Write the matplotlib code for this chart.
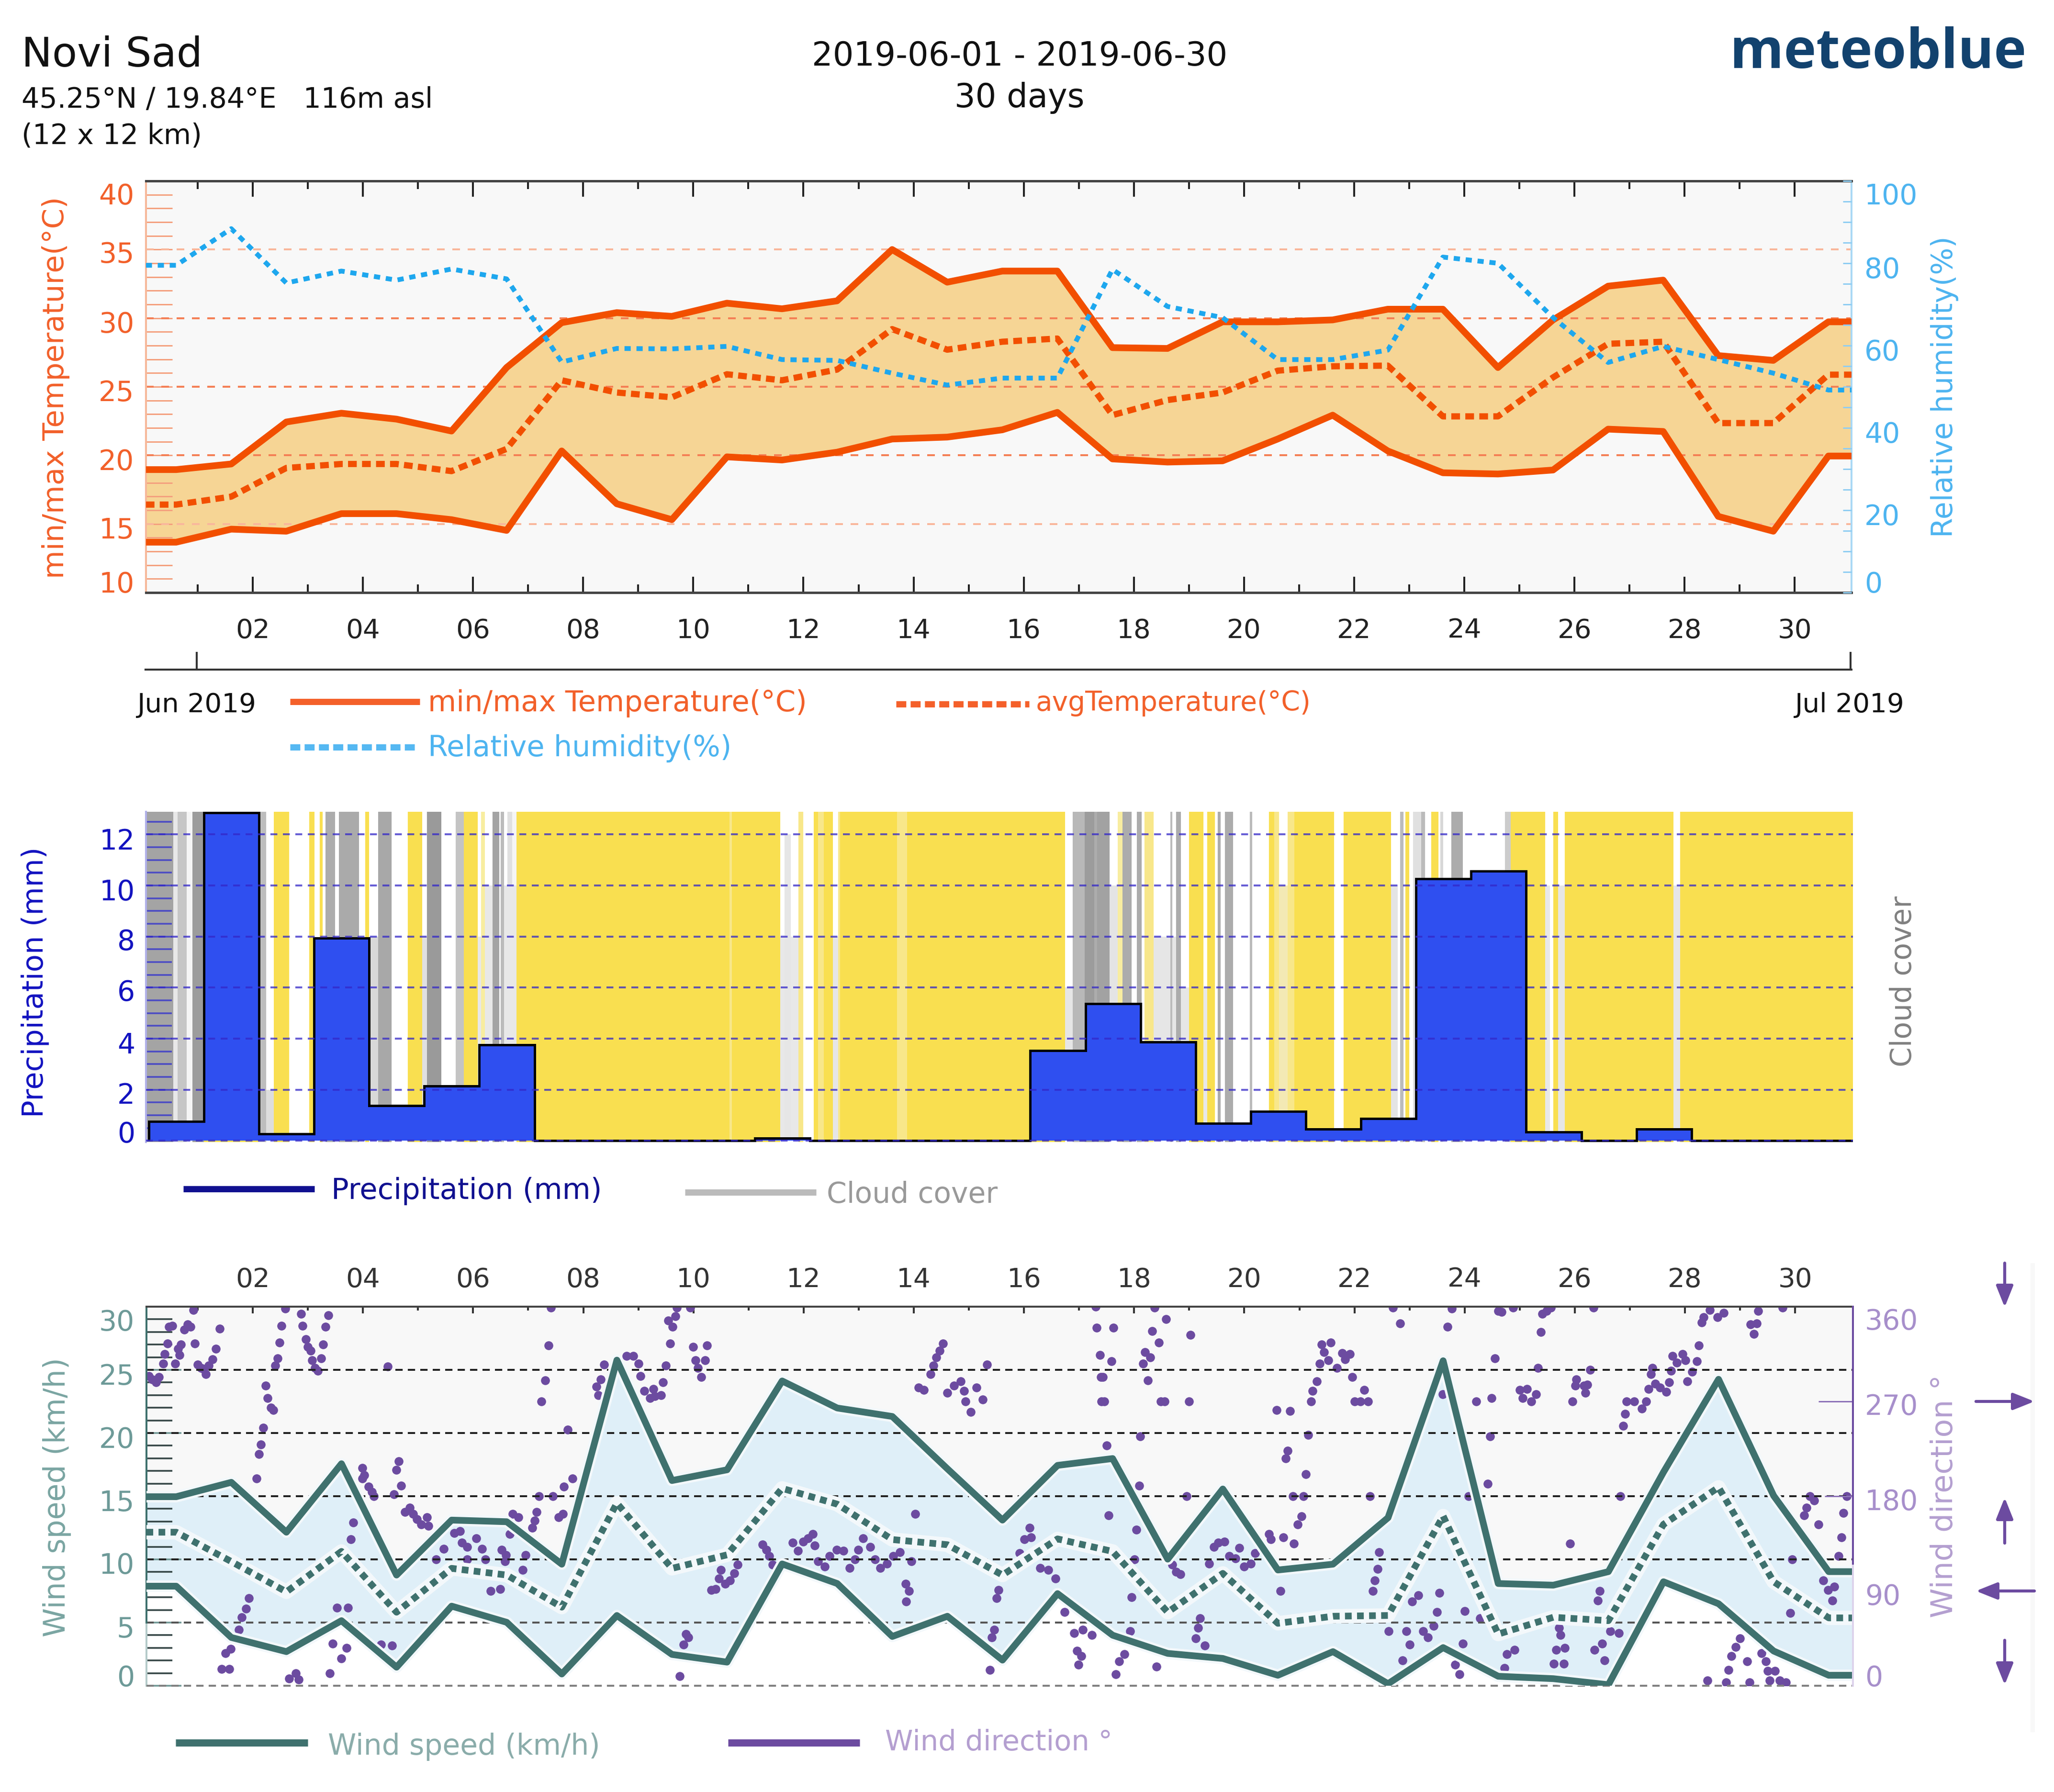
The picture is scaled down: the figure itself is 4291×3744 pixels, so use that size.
"""
Monthly weather overview for Novi Sad, June 2019: temperature and humidity,
precipitation over cloud cover, wind speed and direction.
"""

import numpy as np
import matplotlib
matplotlib.use('Agg')
import matplotlib.pyplot as plt
from matplotlib.transforms import ScaledTranslation

W, H = 4291, 3745
DPI = 300

temp_max = [18.96, 19.37, 22.43, 23.07, 22.64, 21.77, 26.4, 29.67, 30.4, 30.13, 31.09, 30.68, 31.26, 35.0, 32.62, 33.43,
            33.43, 27.85, 27.79, 29.73, 29.73, 29.87, 30.65, 30.65, 26.4, 29.87, 32.33, 32.77, 27.27, 26.92, 29.73]
temp_min = [13.67, 14.62, 14.47, 15.75, 15.75, 15.31, 14.53, 20.32, 16.47, 15.31, 19.89, 19.66, 20.23, 21.19, 21.33, 21.86,
            23.13, 19.74, 19.51, 19.6, 21.19, 22.93, 20.32, 18.73, 18.64, 18.93, 21.91, 21.74, 15.55, 14.47, 19.95]
temp_avg = [16.41, 16.99, 19.08, 19.37, 19.37, 18.85, 20.47, 25.47, 24.58, 24.23, 25.91, 25.47, 26.25, 29.2, 27.7, 28.28,
            28.51, 22.93, 24.03, 24.58, 26.17, 26.49, 26.54, 22.84, 22.84, 25.68, 28.13, 28.28, 22.35, 22.35, 25.88]
humidity = [79.5, 88.4, 75.2, 78.1, 75.9, 78.6, 76.2, 56, 59.3, 59.2, 59.8, 56.6, 56.4, 53.3, 50.4, 52.1,
            52.1, 78.5, 69.5, 66.8, 56.6, 56.6, 58.9, 81.5, 80, 66.8, 55.9, 59.8, 56.6, 53.3, 49.2]

precip = [0.75, 12.85, 0.27, 7.93, 1.37, 2.15, 3.76, 0, 0, 0, 0, 0.1, 0, 0, 0, 0,
          3.54, 5.37, 3.87, 0.69, 1.15, 0.46, 0.86, 10.26, 10.56, 0.35, 0, 0.46, 0, 0, 0]

wind_max = [14.96, 16.1, 12.15, 17.57, 8.76, 13.11, 12.98, 9.62, 25.77, 16.24, 17.09, 24.12, 21.98, 21.31, 17.17, 13.11,
            17.44, 17.98, 10.02, 15.57, 9.16, 9.62, 13.3, 25.72, 8.09, 7.96, 9.03, 16.9, 24.25, 15.04, 9.03]
wind_min = [7.88, 3.82, 2.7, 5.15, 1.47, 6.3, 5.02, 0.93, 5.56, 2.48, 1.87, 9.64, 8.09, 3.9, 5.5, 2.03,
            7.29, 4.0, 2.56, 2.16, 0.83, 2.7, 0.16, 3.02, 0.75, 0.56, 0.08, 8.23, 6.49, 2.75, 0.83]
wind_avg = [12.15, 9.83, 7.43, 10.63, 5.82, 9.29, 8.76, 6.22, 14.45, 9.29, 10.36, 15.62, 14.37, 11.57, 11.16, 8.76,
            11.62, 10.63, 5.82, 8.89, 4.94, 5.5, 5.56, 13.43, 4.09, 5.42, 5.15, 12.77, 15.7, 8.23, 5.37]

# wind direction samples: day position and degrees
wdir_day = [0.11, 0.17, 0.24, 0.30, 0.37, 0.40, 0.45, 0.48, 0.54, 0.59, 0.64, 0.67, 0.70, 0.76, 0.82, 0.87, 0.92, 0.95, 1.0,
            1.06, 1.10, 1.15, 1.20, 1.27, 1.33, 1.40, 2.07, 2.11, 2.15, 2.19, 2.27, 2.23, 2.33, 2.37, 2.41, 2.45, 2.49, 2.52,
            2.59, 2.88, 2.90, 2.96, 3.0, 3.05, 3.08, 3.13, 3.18, 3.24, 3.28, 3.32, 3.37, 3.99, 4.02, 3.99, 4.10, 4.16, 4.20,
            4.45, 4.56, 4.61, 4.65, 4.69, 4.76, 4.85, 4.91, 4.98, 5.06, 5.16, 5.19, 5.33, 5.47, 5.66, 5.76, 5.80, 5.89, 6.06,
            6.16, 5.89, 6.22, 6.32, 6.49, 6.52, 6.60, 6.58, 6.67, 6.72, 6.82, 6.95, 6.90, 7.07, 7.12, 7.15, 7.20, 7.24, 7.31,
            7.37, 7.41, 7.45, 7.55, 7.63, 7.65, 7.72, 7.80, 1.43, 1.57, 1.50, 1.60, 1.75, 1.80, 1.88, 1.93, 2.66, 2.78, 2.83,
            3.40, 3.45, 3.53, 3.73, 3.61, 3.70, 3.78, 3.82, 4.33, 4.53,
            9.70, 9.94, 9.67, 9.54, 9.62, 9.58, 9.99, 10.25, 10.04, 10.21, 10.08, 10.14, 9.50, 9.45, 9.41, 9.27, 9.30, 9.21,
            9.11, 9.04, 9.0, 8.91, 8.79, 8.38, 8.32, 8.24, 8.27, 9.82, 9.91, 9.86, 9.75, 10.32, 10.40, 10.46, 10.50, 10.58,
            10.66, 10.74, 10.80, 11.25, 11.32, 11.38, 11.44, 11.80, 11.90, 11.99, 12.08, 12.17, 12.20, 12.26, 12.38, 12.47,
            12.60, 12.72, 12.84, 12.93, 12.99, 13.08, 13.21, 13.30, 13.39, 13.51, 13.63, 13.75, 13.96, 14.03, 13.85, 13.91,
            13.86, 14.09, 14.18, 14.30, 14.36, 14.41, 14.47, 14.53, 14.61, 14.73, 14.85, 14.91, 14.94, 15.14, 15.33, 15.25,
            15.03, 15.54, 15.50, 15.46, 15.42, 15.38, 15.92, 16.01, 16.10, 16.13, 16.29, 16.44, 16.57, 16.91, 17.07, 17.23,
            16.96, 17.04, 16.99, 16.74, 17.30, 17.32, 17.38, 17.40, 17.41,
            17.62, 17.59, 17.43, 17.46, 17.50, 17.54, 18.37, 18.58, 18.33, 18.45, 18.20, 18.29, 18.16, 18.25, 18.48, 18.55,
            19.0, 19.02, 18.11, 18.09, 18.04, 18.01, 17.95, 17.93, 17.82, 17.73, 17.67, 18.41, 18.95, 18.69, 18.76, 18.84,
            19.45, 19.53, 19.64, 19.36, 19.73, 19.84, 19.91, 20.0, 20.12, 20.20, 20.45, 20.48, 20.71, 20.90, 20.97, 21.04,
            20.66, 19.20, 19.16, 19.12, 19.28, 20.59, 20.83, 20.75, 20.79, 21.12, 20.88, 21.07, 21.16, 21.21, 21.24, 21.32,
            21.40, 21.57, 21.45, 21.37, 21.53, 21.68, 21.78, 21.92, 21.83, 21.96, 22.18, 22.0, 22.11, 22.25, 22.28, 22.70,
            22.83, 22.45, 22.42, 22.37, 22.33, 22.62, 22.94, 23.0, 22.87, 23.05, 23.16, 23.25, 23.33, 23.44, 23.50, 23.54,
            23.60, 23.69, 23.77, 23.83, 23.91, 23.97, 24.0, 24.07, 24.21, 24.28, 24.42, 24.46, 24.49, 24.55, 24.61, 24.67,
            24.88, 24.77, 24.91, 24.72, 25.0, 25.13, 25.05, 25.30, 25.21, 25.33, 25.38, 25.41, 25.49, 25.57, 25.71, 25.74,
            25.66, 25.82, 25.62, 25.80, 25.91, 25.96, 26.03, 26.01,
            26.34, 26.28, 26.17, 26.23, 26.19, 26.45, 26.42, 26.64, 26.80, 26.50, 26.36, 26.54, 26.83, 26.88, 26.91, 26.94,
            27.08, 27.22, 27.30, 27.34, 27.41, 27.38, 27.46, 27.55, 27.66, 27.71, 27.75, 27.77, 27.85, 27.96, 28.01, 28.04,
            28.13, 28.22, 28.25, 28.30, 28.34, 28.45, 28.59, 28.70, 28.41, 28.75, 28.79, 28.84, 28.92, 29.0, 29.13, 29.17,
            29.25, 29.19, 29.30, 29.33, 29.39, 29.47, 29.50, 29.63, 29.54, 29.72, 29.83, 29.77, 29.91, 29.95, 30.16, 30.21,
            30.27, 30.35, 30.42, 30.51, 30.60, 30.71, 30.68, 30.79, 30.84, 30.88, 30.94]
wdir_deg = [294, 291, 288, 293, 306, 315, 325, 341, 342, 306, 320, 314, 324, 338, 343, 341, 357, 325, 305,
            302, 301, 296, 304, 310, 320, 339, 197, 220, 229, 245, 273, 285, 264, 262, 304, 311, 326, 342,
            358, 353, 342, 329, 322, 318, 309, 302, 299, 311, 324, 341, 352, 207, 200, 197, 189, 184, 180,
            303, 182, 205, 213, 190, 165, 169, 163, 158, 153, 160, 152, 120, 130, 145, 147, 136, 132, 140,
            130, 120, 120, 90, 92, 129, 124, 118, 144, 163, 160, 124, 110, 150, 157, 165, 180, 270, 290,
            323, 359, 180, 160, 163, 189, 243, 197, 16, 16, 31, 35, 53, 65, 73, 83, 7, 12, 6,
            12, 40, 74, 74, 26, 36, 139, 155, 39, 38,
            359, 359, 351, 347, 341, 325, 322, 323, 309, 309, 302, 293, 304, 288, 276, 282, 275, 273,
            280, 294, 306, 313, 313, 305, 291, 284, 276, 39, 46, 49, 9, 91, 92, 102, 110, 97,
            100, 107, 115, 134, 129, 123, 115, 136, 128, 137, 140, 144, 133, 118, 113, 123,
            129, 128, 112, 120, 129, 140, 132, 120, 112, 116, 123, 127, 118, 163, 97, 90,
            80, 283, 281, 296, 304, 312, 318, 325, 278, 285, 289, 280, 270, 283, 305, 272,
            260, 91, 83, 53, 46, 15, 126, 139, 150, 141, 112, 110, 102, 50, 53, 48,
            33, 28, 20, 70, 360, 340, 314, 293, 270,
            340, 308, 293, 270, 228, 162, 359, 348, 337, 326, 317, 312, 306, 290, 270, 270,
            270, 333, 237, 190, 148, 120, 84, 52, 30, 23, 11, 18, 180, 115, 108, 106,
            132, 136, 137, 116, 123, 121, 131, 113, 116, 126, 144, 139, 141, 135, 153, 161,
            90, 64, 55, 45, 38, 262, 261, 216, 223, 201, 180, 180, 238, 270, 280, 289,
            324, 326, 317, 306, 309, 302, 316, 315, 310, 293, 281, 270, 270, 270, 180, 359,
            344, 127, 111, 100, 90, 52, 52, 39, 24, 80, 86, 52, 46, 57, 70, 88,
            277, 341, 358, 20, 11, 40, 71, 180, 270, 64, 192, 237, 273, 311, 356, 355,
            359, 30, 34, 17, 281, 282, 273, 277, 270, 302, 336, 353, 356, 359, 55, 48,
            34, 36, 21, 21, 135, 270, 291, 285,
            359, 300, 285, 286, 278, 90, 81, 52, 50, 40, 34, 24, 180, 247, 258, 270,
            270, 263, 270, 282, 302, 296, 287, 283, 279, 288, 299, 313, 307, 315, 309, 289,
            298, 308, 323, 345, 350, 357, 350, 354, 5, 3, 15, 28, 37, 45, 23, 3,
            334, 343, 344, 356, 31, 23, 14, 14, 5, 5, 3, 359, 69, 120, 162, 169,
            180, 176, 153, 100, 91, 94, 81, 123, 141, 164, 180]

# cloud cover strips over the sunny background, in days
cloud_start = [0.06, 0.563, 0.645, 0.81, 0.91, 2.115, 2.25, 2.67, 3.13, 3.28, 3.33, 3.5, 3.57, 3.94, 4.12, 4.28, 4.53, 5.08,
               5.17, 5.43, 5.69, 6.09, 6.15, 6.22, 6.36, 6.48, 6.51, 6.57, 6.63, 6.72, 10.66, 11.58, 11.91, 12.0, 12.27,
               12.54, 12.63, 13.70, 16.75, 16.89, 17.11, 17.28, 17.33, 17.56, 17.71, 17.79, 17.96, 18.05, 18.14, 18.19,
               18.36, 18.66, 18.70, 18.77, 18.85, 19.26, 19.47, 19.52, 19.57, 19.65, 19.80, 20.10, 20.15, 20.55, 20.63,
               20.79, 21.63, 22.67, 22.83, 22.89, 23.0, 23.07, 23.21, 23.28, 23.53, 23.56, 23.61, 23.76, 23.97, 24.73,
               25.46, 25.70, 27.79]
cloud_end = [0.563, 0.645, 0.81, 0.91, 1.12, 2.25, 2.39, 3.03, 3.22, 3.33, 3.5, 3.57, 3.94, 4.05, 4.28, 4.53, 4.82, 5.17,
             5.43, 5.69, 5.84, 6.15, 6.22, 6.36, 6.48, 6.51, 6.57, 6.63, 6.72, 6.79, 10.70, 11.91, 12.0, 12.19, 12.37,
             12.63, 12.67, 13.88, 16.89, 17.11, 17.28, 17.33, 17.56, 17.71, 17.79, 17.96, 18.05, 18.14, 18.19, 18.36,
             18.66, 18.70, 18.77, 18.85, 19.0, 19.33, 19.52, 19.57, 19.65, 19.80, 20.10, 20.15, 20.45, 20.63, 20.79,
             20.91, 21.81, 22.83, 22.89, 22.93, 23.07, 23.21, 23.28, 23.4, 23.56, 23.61, 23.76, 23.97, 24.73, 24.84,
             25.61, 25.82, 27.91]
cloud_tone = ['#a4a4a4', '#e8e8e8', '#c6c6c6', '#f5f5f5', '#9c9c9c', '#bdbdbd', 'white', 'white', 'white', 'white', '#acacac',
              'white', '#aaaaaa', 'white', 'white', '#a8a8a8', 'white', 'white', '#9a9a9a', 'white', '#c4c4c4', 'white',
              '#f8eda0', 'white', '#a4a4a4', 'white', '#bbbbbb', 'white', '#e0e0e0', '#f5f5f5', '#f8e78a', 'white',
              '#f8e78a', 'white', '#f8e78a', 'white', '#f8e78a', '#f8e78a', 'white', '#b8b8b8', '#9c9c9c', '#acacac',
              '#a2a2a2', 'white', '#f8eda0', '#acacac', 'white', '#acacac', 'white', '#f8e78a', 'white', '#bbbbbb',
              'white', '#acacac', 'white', 'white', 'white', '#acacac', 'white', '#acacac', 'white', '#bbbbbb', 'white',
              '#f8e78a', 'white', '#f8e78a', 'white', 'white', '#bbbbbb', 'white', 'white', '#e0e0e0', '#bbbbbb', 'white',
              'white', '#d8d8d8', 'white', '#acacac', 'white', '#cccccc', 'white', 'white', 'white']
# part of a strip that only reaches up to a given precipitation level
low_start = [2.25, 4.12, 5.08, 6.09, 6.22, 6.57, 11.58, 11.66, 11.775, 12.54, 16.75, 17.56, 18.36, 18.70, 18.85, 19.26,
             22.67, 20.63, 25.46, 25.70, 27.79]
low_end = [2.39, 4.28, 5.17, 6.15, 6.36, 6.79, 11.66, 11.775, 11.91, 12.63, 16.89, 17.71, 18.66, 18.77, 19.0, 19.33,
           22.79, 20.79, 25.55, 25.82, 27.91]
low_top = [2, 8, 8, 8, 10, 10, 8, 12, 8, 8, 6, 10, 8, 8, 6, 6, 10, 10, 10, 10, 10]
low_tone = ['#dddddd', '#d8d8d8', '#e0e0e0', '#e8e8e8', '#e8e8e8', '#e8e8e8', '#e8e8e8', '#e6e6e6', '#e8e8e8', '#e6e6e6',
            '#e6e6e6', '#e4e4e4', '#e6e6e6', '#e6e6e6', '#e6e6e6', '#e8e8e8', '#e4e4e4', '#f3e9b4', '#e8e8e8', '#e6e6e6',
            '#e6e6e6']

temp_ticks = [40, 35, 30, 25, 20, 15, 10]
hum_ticks = [100, 80, 60, 40, 20, 0]
precip_ticks = [12, 10, 8, 6, 4, 2, 0]
speed_ticks = [30, 25, 20, 15, 10, 5, 0]
dir_ticks = [360, 270, 180, 90, 0]
even_days = list(range(2, 31, 2))
odd_days = list(range(1, 31, 2))

ORANGE = '#f24f00'
ORANGE_TXT = '#f2602a'
BLUE = '#1ea7ee'
BLUE_TXT = '#4db4f0'
NAVY = '#1212c0'
TEAL = '#3f716e'
TEAL_TXT = '#7aa5a2'
PURPLE = '#6c4ba0'
PURPLE_TXT = '#a78fcb'


def px(v):
    """Pixels of the final image to points."""
    return v * 72 / DPI


def box(fig, left, right, top, bottom):
    return fig.add_axes([left / W, 1 - bottom / H, (right - left) / W, (bottom - top) / H])


def edge_to_edge(x, values, xlim):
    """Hold first and last value flat out to the axes edges."""
    return np.r_[xlim[0], x, xlim[1]], np.r_[values[0], values, values[-1]]


def shift_labels(fig, labels, offsets):
    # tick labels sit a little off their ticks in the original
    for lab, dy in zip(labels, offsets):
        lab.set_transform(lab.get_transform() + ScaledTranslation(0, -dy / DPI, fig.dpi_scale_trans))


def draw_temperature(fig, x):
    xlim = (0.058, 31.03)
    ax = box(fig, 304.5, 3868, 379, 1239)
    ax.set_facecolor('#f8f8f8')
    ax.set_xlim(xlim)
    ax.set_ylim(10, 40)

    xs, hi = edge_to_edge(x, temp_max, xlim)
    _, lo = edge_to_edge(x, temp_min, xlim)
    _, avg = edge_to_edge(x, temp_avg, xlim)
    ax.fill_between(xs, lo, hi, color='#f6d595', lw=0, zorder=1)
    for v in temp_ticks:
        pale = v in (35, 15)
        ax.axhline(v, color='#f9b79c' if pale else '#f47f55', lw=px(4), dashes=(4, 4), zorder=2)
    ax.plot(xs, hi, color=ORANGE, lw=px(14), zorder=3)
    ax.plot(xs, lo, color=ORANGE, lw=px(14), zorder=3)
    ax.plot(xs, avg, color=ORANGE, lw=px(13), dashes=(1.4, 0.85), zorder=3)

    ax.set_xticks(even_days)
    ax.set_xticklabels([f'{d:02d}' for d in even_days])
    ax.set_xticks(odd_days, minor=True)
    ax.tick_params(axis='x', which='major', direction='in', top=True, bottom=True, length=px(33), width=px(4),
                   color='#222222', labelsize=13.5, labelcolor='#222222', pad=px(52))
    ax.tick_params(axis='x', which='minor', direction='in', top=True, bottom=True, length=px(17), width=px(4),
                   color='#222222')
    ax.set_yticks(temp_ticks)
    ax.set_yticks(range(11, 40), minor=True)
    ax.tick_params(axis='y', which='both', direction='in', length=px(55), width=px(3), color='#f4a07e')
    ax.tick_params(axis='y', which='major', labelsize=14, labelcolor=ORANGE_TXT, pad=px(24))
    shift_labels(fig, ax.get_yticklabels(), [26, 4, 7, 7, 7, 7, -23])
    ax.spines['left'].set_color('#f6b89a')
    ax.spines['left'].set_linewidth(px(4))
    ax.spines['right'].set_color('#aad8f5')
    ax.spines['right'].set_linewidth(px(4))
    for side in ('top', 'bottom'):
        ax.spines[side].set_color('#444444')
        ax.spines[side].set_linewidth(px(5))

    ax_h = ax.twinx()
    ax_h.set_ylim(0, 100)
    xs, hum = edge_to_edge(x, humidity, xlim)
    ax_h.plot(xs, hum, color=BLUE, lw=px(10), dashes=(1.3, 1.2))
    ax_h.set_yticks(hum_ticks)
    ax_h.set_yticks(range(5, 100, 5), minor=True)
    ax_h.tick_params(axis='y', which='both', direction='in', length=px(18), width=px(3), color='#8fcdf2')
    ax_h.tick_params(axis='y', which='major', labelsize=14, labelcolor=BLUE_TXT, pad=px(27))
    shift_labels(fig, ax_h.get_yticklabels(), [26, 8, 8, 8, 8, -23])
    for s in ax_h.spines.values():
        s.set_visible(False)


def draw_precipitation(fig):
    xlim = (0.07, 31.05)
    ax = box(fig, 305, 3871, 1697, 2387)
    ax.set_facecolor('#f9df50')
    ax.set_xlim(xlim)
    ax.set_ylim(-0.05, 12.89)

    for a, b, tone in zip(cloud_start, cloud_end, cloud_tone):
        ax.axvspan(a, b, color=tone, lw=0, zorder=1)
    ax.bar(low_start, low_top, width=np.subtract(low_end, low_start), align='edge', color=low_tone, lw=0, zorder=1.2)

    edges = 0.12 + np.arange(len(precip) + 1)
    ax.stairs(precip, edges, fill=True, color='#2f4ff0', lw=0, zorder=2)
    ax.stairs(precip, edges, baseline=0, color='black', lw=px(5), zorder=2.5)
    for v in precip_ticks:
        ax.axhline(v, color='#3428c8', alpha=0.75, lw=px(4), dashes=(3.6, 2.9), zorder=3)

    ax.set_xticks([])
    ax.set_yticks(precip_ticks)
    ax.set_yticks(np.arange(0.5, 12.6, 0.5), minor=True)
    ax.tick_params(axis='y', which='both', direction='in', length=px(54), width=px(3.5), color='#4a4ac4')
    ax.tick_params(axis='y', which='major', labelsize=14, labelcolor=NAVY, pad=px(23))
    shift_labels(fig, ax.get_yticklabels(), [8, 7, 5, 4, 7, 6, -20])
    for side in ('top', 'right', 'bottom'):
        ax.spines[side].set_visible(False)
    ax.spines['left'].set_color('#b0b0e8')
    ax.spines['left'].set_linewidth(px(4))


def draw_wind(fig, x):
    xlim = (0.07, 31.05)
    ax = box(fig, 306, 3871, 2731, 3523)
    ax.set_facecolor('white')
    ax.set_xlim(xlim)
    ax.set_ylim(0, 30)

    ax_d = ax.twinx()
    ax_d.set_ylim(0, 360)

    xs, hi = edge_to_edge(x, wind_max, xlim)
    _, lo = edge_to_edge(x, wind_min, xlim)
    _, avg = edge_to_edge(x, wind_avg, xlim)
    ax.fill_between(xs, hi, 30, color='#f8f8f8', lw=0, zorder=1)
    ax.fill_between(xs, lo, hi, color='#dfeff8', lw=0, zorder=1)

    # the dots belong to the direction scale but lie under the speed lines
    ax.scatter(wdir_day, wdir_deg, s=20, color=PURPLE, lw=0, zorder=2, transform=ax_d.transData, clip_on=True)

    for v in speed_ticks:
        tone = '#222222' if v >= 10 else ('#555555' if v == 5 else '#808080')
        ax.axhline(v, color=tone, lw=px(4), dashes=(3.8, 2.7), zorder=2.5, clip_on=False)

    ax.plot(xs, hi, color='#f3f8fb', lw=px(24), zorder=3)
    ax.plot(xs, lo, color='#f3f8fb', lw=px(24), zorder=3)
    ax.plot(xs, avg, color='#f3f8fb', lw=px(30), zorder=3)
    ax.plot(xs, hi, color=TEAL, lw=px(14), zorder=4)
    ax.plot(xs, lo, color=TEAL, lw=px(14), zorder=4)
    ax.plot(xs, avg, color=TEAL, lw=px(14), dashes=(1.0, 0.8), zorder=4)

    ax.xaxis.tick_top()
    ax.set_xticks(even_days)
    ax.set_xticklabels([f'{d:02d}' for d in even_days])
    ax.set_xticks(odd_days, minor=True)
    ax.tick_params(axis='x', which='major', direction='in', length=px(14), width=px(4), color='#333333',
                   labelsize=13.5, labelcolor='#333333', pad=px(30))
    ax.tick_params(axis='x', which='minor', direction='in', length=px(8), width=px(4), color='#333333')
    ax.set_yticks(speed_ticks)
    ax.set_yticks([v for v in range(1, 30) if v % 5], minor=True)
    ax.tick_params(axis='y', which='major', direction='in', length=px(73), width=px(3.5), color='#6f9694',
                   labelsize=14, labelcolor='#6d9a98', pad=px(25))
    ax.tick_params(axis='y', which='minor', direction='in', length=px(54), width=px(3.5), color='#334444')
    # lower ticks fade out towards the bottom
    for tick in ax.yaxis.get_minor_ticks():
        if tick.get_loc() < 5:
            tick.tick1line.set_color('#8f9a9a')
    shift_labels(fig, ax.get_yticklabels(), [27, 8, 8, 8, 7, 8, -22])

    for side in ('right', 'bottom'):
        ax.spines[side].set_visible(False)
    ax.spines['top'].set_color('#444444')
    ax.spines['top'].set_linewidth(px(4))
    ax.spines['left'].set_color(TEAL)
    ax.spines['left'].set_linewidth(px(4))
    ax.spines['left'].set_bounds(5, 30)
    ax.plot([xlim[0], xlim[0]], [0, 5], color='#b5cbca', lw=px(4), clip_on=False, zorder=2)

    ax_d.set_yticks(dir_ticks)
    ax_d.tick_params(axis='y', length=0, labelsize=14, labelcolor=PURPLE_TXT, pad=px(25))
    shift_labels(fig, ax_d.get_yticklabels(), [25, 5, 6, 6, -22])
    ax_d.hlines(270, 30.42, xlim[1], color='#8d72b8', lw=px(3))
    ax_d.hlines(180, 30.54, xlim[1], color='#8d72b8', lw=px(3))
    for s in ('left', 'top', 'bottom'):
        ax_d.spines[s].set_visible(False)
    ax_d.spines['right'].set_color(PURPLE)
    ax_d.spines['right'].set_linewidth(px(4))
    ax_d.spines['right'].set_bounds(116, 360)
    ax_d.plot([xlim[1], xlim[1]], [0, 116], color='#ddd3ec', lw=px(4), clip_on=False)


def draw_page(fig):
    """Header, legends, axis titles and compass arrows, placed in image pixels."""
    ov = fig.add_axes([0, 0, 1, 1])
    ov.set_xlim(0, W)
    ov.set_ylim(H, 0)
    ov.axis('off')

    def text(x, y, s, size=14.5, color='#222222', ha='left', **kw):
        ov.text(x, y, s, fontsize=size, color=color, ha=ha, va='center', **kw)

    def swatch(x0, x1, y, color, lw=13, dashes=None):
        line, = ov.plot([x0, x1], [y, y], color=color, lw=px(lw), solid_capstyle='butt', dash_capstyle='butt')
        if dashes:
            line.set_dashes(dashes)

    text(45, 115, 'Novi Sad', size=20.5, color='#111111')
    text(45, 208, '45.25°N / 19.84°E   116m asl', size=14.1, color='#111111')
    text(45, 284, '(12 x 12 km)', size=14.1, color='#111111')
    text(2130, 118, '2019-06-01 - 2019-06-30', size=16.5, color='#111111', ha='center')
    text(2130, 204, '30 days', size=16.5, color='#111111', ha='center')
    text(4233, 112, 'meteoblue', size=27.5, color='#12426e', ha='right', family='Open Sans', weight='bold')

    # top panel
    ov.plot([304, 3868], [1400, 1400], color='#333333', lw=px(4))
    ov.plot([411, 411], [1365, 1400], color='#333333', lw=px(4))
    ov.plot([3866, 3866], [1365, 1400], color='#333333', lw=px(4))
    text(411, 1473, 'Jun 2019', size=13.5, ha='center', color='#111111')
    text(3864, 1473, 'Jul 2019', size=13.5, ha='center', color='#111111')
    swatch(606, 877, 1467, '#f4602a')
    text(894, 1470, 'min/max Temperature(°C)', size=14.6, color=ORANGE_TXT)
    swatch(1872, 2150, 1472, '#f4602a', dashes=(1.6, 0.7))
    text(2164, 1470, 'avgTemperature(°C)', size=13.6, color=ORANGE_TXT)
    swatch(606, 871, 1562, '#55b8f2', dashes=(1.6, 0.7))
    text(894, 1564, 'Relative humidity(%)', color=BLUE_TXT)
    text(117, 810, 'min/max Temperature(°C)', size=14.7, color=ORANGE_TXT, ha='center', rotation=90)
    text(4062, 808, 'Relative humidity(%)', size=14.4, color=BLUE_TXT, ha='center', rotation=90)

    # middle panel
    swatch(383, 657, 2485, '#101090')
    text(692, 2489, 'Precipitation (mm)', size=14.6, color='#101090')
    swatch(1431, 1705, 2492, '#bbbbbb')
    text(1727, 2497, 'Cloud cover', size=14.4, color='#999999')
    text(74, 2052, 'Precipitation (mm)', size=14.6, color=NAVY, ha='center', rotation=90)
    text(3976, 2050, 'Cloud cover', size=14.4, color='#808080', ha='center', rotation=90)

    # bottom panel
    swatch(367, 643, 3642, TEAL, lw=15)
    text(685, 3650, 'Wind speed (km/h)', size=14.4, color='#8aacaa')
    swatch(1521, 1796, 3642, PURPLE, lw=15)
    text(1849, 3641, 'Wind direction °', size=14.2, color='#b49fd0')
    text(119, 3128, 'Wind speed (km/h)', size=14.8, color=TEAL_TXT, ha='center', rotation=90)
    text(4062, 3126, 'Wind direction °', size=15.2, color='#b49fd0', ha='center', rotation=90)

    ov.fill_between([4242, 4251], 2640, 3620, color='#f8f8f8', lw=0)
    arrow = dict(arrowstyle='-|>,head_length=0.9,head_width=0.36', color=PURPLE, lw=1.5,
                 mutation_scale=10, shrinkA=0, shrinkB=0)
    for start, end in [((4188, 2640), (4188, 2732)), ((4128, 2929), (4250, 2929)), ((4188, 3225), (4188, 3130)),
                       ((4250, 3325), (4128, 3325)), ((4188, 3428), (4188, 3521))]:
        ov.annotate('', xy=end, xytext=start, arrowprops=arrow)


def main():
    fig = plt.figure(figsize=(W / DPI, H / DPI), dpi=DPI, facecolor='white')
    x = 0.61 + np.arange(len(temp_max))

    draw_temperature(fig, x)
    draw_precipitation(fig)
    draw_wind(fig, x)
    draw_page(fig)

    fig.savefig('out.png', dpi=DPI)
    plt.close(fig)


if __name__ == '__main__':
    main()
